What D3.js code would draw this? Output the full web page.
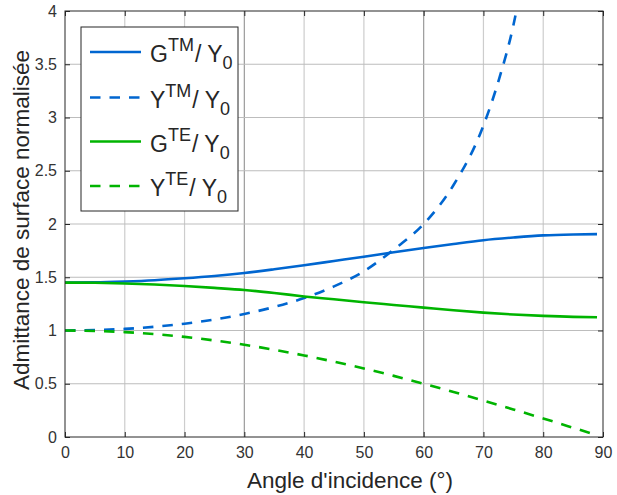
<!DOCTYPE html>
<html>
<head>
<meta charset="utf-8">
<script src="https://cdn.jsdelivr.net/npm/d3@7"></script>
<style>
  html, body { margin: 0; padding: 0; background: #ffffff; }
  svg { display: block; font-family: "Liberation Sans", Arial, sans-serif; }
</style>
</head>
<body>
<svg id="chart" width="617" height="495"></svg>
<script>
// ---- Data ----
const angles = [0, 5, 10, 15, 20, 25, 30, 35, 40, 45, 50, 55, 60, 65, 70, 75, 80, 85, 89];
const gTM = [1.450, 1.452, 1.460, 1.472, 1.490, 1.512, 1.540, 1.575, 1.613, 1.653, 1.693, 1.735, 1.775, 1.813, 1.848, 1.873, 1.893, 1.902, 1.905];
const gTE = [1.450, 1.448, 1.442, 1.432, 1.418, 1.400, 1.380, 1.352, 1.320, 1.293, 1.265, 1.240, 1.215, 1.190, 1.168, 1.150, 1.137, 1.128, 1.125];
const yTE = [1.000, 0.996, 0.985, 0.966, 0.940, 0.906, 0.866, 0.819, 0.766, 0.707, 0.643, 0.574, 0.500, 0.423, 0.342, 0.259, 0.174, 0.087, 0.017];
const anglesYTM = [0, 5, 10, 15, 20, 25, 30, 35, 40, 45, 50, 55, 60, 65, 70, 72.5, 75, 76];
const yTM = [1.000, 1.004, 1.015, 1.035, 1.064, 1.103, 1.155, 1.221, 1.305, 1.414, 1.556, 1.760, 2.000, 2.366, 2.924, 3.340, 3.864, 4.140];

const xTicks = [0, 10, 20, 30, 40, 50, 60, 70, 80, 90];
const yTicks = [0, 0.5, 1, 1.5, 2, 2.5, 3, 3.5, 4];
const xTickLabels = ["0", "10", "20", "30", "40", "50", "60", "70", "80", "90"];
const yTickLabels = ["0", "0.5", "1", "1.5", "2", "2.5", "3", "3.5", "4"];

const seriesNames = [
  { base: "G", sup: "TM" },
  { base: "Y", sup: "TM" },
  { base: "G", sup: "TE" },
  { base: "Y", sup: "TE" }
];

// ---- Layout ----
const svg = d3.select("#chart");
const pLeft = 65, pRight = 603, pTop = 11, pBottom = 437;
const x = d3.scaleLinear().domain([0, 90]).range([pLeft, pRight]);
const y = d3.scaleLinear().domain([0, 4]).range([pBottom, pTop]);

const axisColor = "#262626";
const blue = "#0066d0";
const green = "#00b400";

// grid
const grid = svg.append("g");
grid.selectAll("line.vg").data(xTicks.slice(1, -1)).enter().append("line")
  .attr("x1", d => x(d)).attr("x2", d => x(d))
  .attr("y1", pTop).attr("y2", pBottom)
  .attr("stroke", d => (d === 30 || d === 60) ? "#9a9a9a" : "#cdcdcd")
  .attr("stroke-width", 1.2);
grid.selectAll("line.hg").data(yTicks.slice(1, -1)).enter().append("line")
  .attr("x1", pLeft).attr("x2", pRight)
  .attr("y1", d => y(d)).attr("y2", d => y(d))
  .attr("stroke", "#bdbdbd")
  .attr("stroke-width", 1.2);

// axes with D3
const xAxis = d3.axisBottom(x).tickValues(xTicks).tickFormat((d, i) => xTickLabels[i]).tickSizeInner(-5).tickSizeOuter(0).tickPadding(10);
const yAxis = d3.axisLeft(y).tickValues(yTicks).tickFormat((d, i) => yTickLabels[i]).tickSizeInner(-5).tickSizeOuter(0).tickPadding(8);
const xTopAxis = d3.axisTop(x).tickValues(xTicks).tickFormat("").tickSizeInner(-5).tickSizeOuter(0);
const yRightAxis = d3.axisRight(y).tickValues(yTicks).tickFormat("").tickSizeInner(-5).tickSizeOuter(0);

function styleAxis(g) {
  g.select(".domain").remove();
  g.selectAll(".tick line").attr("stroke", axisColor).attr("stroke-width", 1);
  g.selectAll(".tick text").attr("fill", "#333333").attr("font-size", 16)
    .attr("font-family", "'Liberation Sans', Arial, sans-serif");
}
svg.append("g").attr("transform", `translate(0,${pBottom})`).call(xAxis).call(styleAxis);
svg.append("g").attr("transform", `translate(${pLeft},0)`).call(yAxis).call(styleAxis);
svg.append("g").attr("transform", `translate(0,${pTop})`).call(xTopAxis).call(styleAxis);
svg.append("g").attr("transform", `translate(${pRight},0)`).call(yRightAxis).call(styleAxis);

// clip
svg.append("clipPath").attr("id", "plotclip").append("rect")
  .attr("x", pLeft).attr("y", pTop).attr("width", pRight - pLeft).attr("height", pBottom - pTop);

const line = d3.line().x(d => x(d[0])).y(d => y(d[1])).curve(d3.curveMonotoneX);
const plot = svg.append("g").attr("clip-path", "url(#plotclip)");

const series = [
  { pts: angles.map((a, i) => [a, gTM[i]]), color: blue, dash: null },
  { pts: anglesYTM.map((a, i) => [a, yTM[i]]), color: blue, dash: "10.5,9" },
  { pts: angles.map((a, i) => [a, gTE[i]]), color: green, dash: null },
  { pts: angles.map((a, i) => [a, yTE[i]]), color: green, dash: "10.5,9" }
];
series.forEach(s => {
  plot.append("path").attr("d", line(s.pts))
    .attr("fill", "none").attr("stroke", s.color).attr("stroke-width", 2.6)
    .attr("stroke-dasharray", s.dash);
});

// box
svg.append("rect").attr("x", pLeft).attr("y", pTop).attr("width", pRight - pLeft).attr("height", pBottom - pTop)
  .attr("fill", "none").attr("stroke", axisColor).attr("stroke-width", 1);

// legend
const lg = svg.append("g");
lg.append("rect").attr("x", 81).attr("y", 27).attr("width", 157).attr("height", 184)
  .attr("fill", "#ffffff").attr("stroke", axisColor).attr("stroke-width", 1);
const rowY = [52, 97.5, 141.5, 186];
series.forEach((s, i) => {
  lg.append("line").attr("x1", 90).attr("x2", 141).attr("y1", rowY[i]).attr("y2", rowY[i])
    .attr("stroke", s.color).attr("stroke-width", 2.6).attr("stroke-dasharray", s.dash);
  const t = lg.append("text").attr("x", 150).attr("y", rowY[i] + 10)
    .attr("font-size", 23).attr("fill", "#262626");
  t.append("tspan").text(seriesNames[i].base);
  t.append("tspan").attr("font-size", 18).attr("dy", -11).text(seriesNames[i].sup);
  t.append("tspan").attr("dx", 1).attr("dy", 11).text("/ Y");
  t.append("tspan").attr("font-size", 18).attr("dy", 7).text("0");
});

// axis labels
svg.append("text").attr("x", 350).attr("y", 488).attr("text-anchor", "middle")
  .attr("font-size", 22.5).attr("fill", "#262626").text("Angle d'incidence (°)");
svg.append("text").attr("transform", `translate(29,${(pTop + pBottom) / 2 - 4}) rotate(-90)`)
  .attr("text-anchor", "middle").attr("font-size", 22.5).attr("fill", "#262626")
  .text("Admittance de surface normalisée");
</script>
</body>
</html>
